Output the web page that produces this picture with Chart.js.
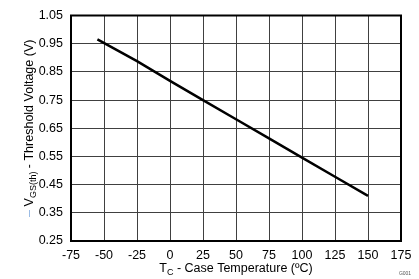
<!DOCTYPE html>
<html>
<head>
<meta charset="utf-8">
<script src="https://cdn.jsdelivr.net/npm/chart.js@4.4.1/dist/chart.umd.min.js"></script>
<style>
  html, body { margin:0; padding:0; background:#fff; }
  #wrap { width:419px; height:279px; }
</style>
</head>
<body>
<div id="wrap"><canvas id="vthChart" width="419" height="279"></canvas></div>
<script>
// Tc (°C) vs VGS(th) (V)
const tempC = [-55, -25, 0, 25, 50, 75, 100, 125, 150];
const vth = [0.965, 0.888, 0.818, 0.75, 0.682, 0.614, 0.546, 0.478, 0.41];
const xTicks = [-75, -50, -25, 0, 25, 50, 75, 100, 125, 150, 175];
const yTicks = [0.25, 0.35, 0.45, 0.55, 0.65, 0.75, 0.85, 0.95, 1.05];

const FONT = '"Liberation Sans", Arial, sans-serif';

// draw the frame, axis titles (with subscripts) and the G001 tag
const extras = {
  id:'extras',
  afterDraw(chart){
    const ctx = chart.ctx;
    const a = chart.chartArea;
    ctx.save();
    ctx.strokeStyle = '#000';
    ctx.lineWidth = 2;
    ctx.strokeRect(a.left, a.top, a.right - a.left, a.bottom - a.top);

    // x title
    ctx.fillStyle = '#000';
    ctx.textBaseline = 'alphabetic';
    const big = '12.5px ' + FONT, small = '9px ' + FONT;
    const xParts = [['T', big, 0], ['C', small, 3], [' - Case Temperature (ºC)', big, 0]];
    let w = 0;
    xParts.forEach(p=>{ ctx.font = p[1]; w += ctx.measureText(p[0]).width; });
    let x = (a.left + a.right)/2 - w/2;
    const by = 272;
    xParts.forEach(p=>{ ctx.font = p[1]; ctx.fillText(p[0], x, by + p[2]); x += ctx.measureText(p[0]).width; });

    // y title, rotated
    ctx.translate(33, (a.top + a.bottom)/2);
    ctx.rotate(-Math.PI/2);
    const yParts = [['– ', big, 0, '#8db3e2'], ['V', big, 0, '#000'], ['GS(th)', small, 3, '#000'], [' - Threshold Voltage (V)', big, 0, '#000']];
    w = 0;
    yParts.forEach(p=>{ ctx.font = p[1]; w += ctx.measureText(p[0]).width; });
    x = -w/2;
    yParts.forEach(p=>{ ctx.font = p[1]; ctx.fillStyle = p[3]; ctx.fillText(p[0], x, p[2]); x += ctx.measureText(p[0]).width; });
    ctx.restore();

    ctx.save();
    ctx.font = '5px ' + FONT;
    ctx.fillStyle = '#555';
    ctx.textAlign = 'center';
    ctx.fillText('G001', 405, 275);
    ctx.restore();
  }
};

new Chart(document.getElementById('vthChart'), {
  type:'line',
  data:{
    datasets:[{
      data: tempC.map((t,i)=>({x:t, y:vth[i]})),
      borderColor:'#000', borderWidth:2.5, pointRadius:0, fill:false, tension:0
    }]
  },
  options:{
    responsive:false, animation:false,
    layout:{ padding:{ top:7, right:18, left:0, bottom:0 } },
    plugins:{ legend:{ display:false }, tooltip:{ enabled:false } },
    scales:{
      x:{
        type:'linear', min:-75, max:175,
        afterBuildTicks: s=>{ s.ticks = xTicks.map(v=>({value:v})); },
        afterFit: s=>{ s.height = 38; },
        grid:{ color:'#404040', lineWidth:1, drawTicks:false },
        border:{ color:'#000', width:2 },
        ticks:{ color:'#000', font:{ family:FONT, size:12.5 }, padding:7, maxRotation:0, autoSkip:false, callback:v=>String(v) }
      },
      y:{
        type:'linear', min:0.25, max:1.05,
        afterBuildTicks: s=>{ s.ticks = yTicks.map(v=>({value:v})); },
        afterFit: s=>{ s.width = 71; },
        grid:{ color:'#404040', lineWidth:1, drawTicks:false },
        border:{ color:'#000', width:2 },
        ticks:{ color:'#000', font:{ family:FONT, size:12.5 }, padding:8, autoSkip:false, callback:v=>v.toFixed(2) }
      }
    }
  },
  plugins:[extras]
});
</script>
</body>
</html>
